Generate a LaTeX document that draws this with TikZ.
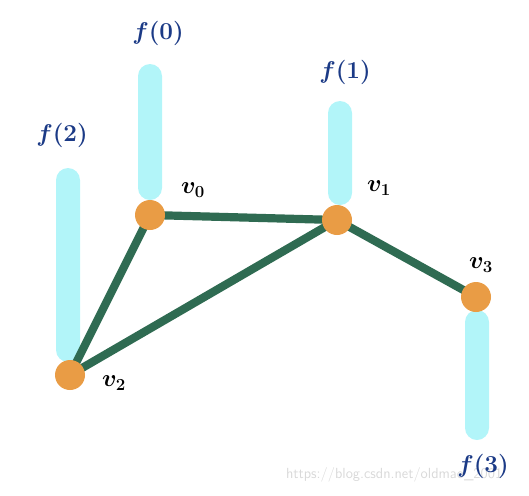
\documentclass[tikz,border=0pt]{standalone}
\usepackage{fontspec}
\usetikzlibrary{positioning,calc}
\definecolor{barcyan}{HTML}{B2F5F9}
\definecolor{vorange}{HTML}{E99C45}
\definecolor{edgegreen}{HTML}{2F6B52}
\definecolor{fblue}{HTML}{1B3A86}
\definecolor{wmgray}{HTML}{D9D9D9}
\newcommand{\lblsize}{\fontsize{21}{24}\selectfont\boldmath}

\begin{document}
\begin{tikzpicture}[
      x=0.03cm, y=-0.03cm, % <-- ONE UNIT IS ONE PIXEL OF THE REFERENCE
      vertex/.style={circle, fill=vorange, minimum size=0.9cm, inner sep=0pt},
      fbar/.style={fill=barcyan, rounded corners=0.36cm},
      link/.style={draw=edgegreen, line width=7pt},
      flabel/.style={text=fblue, font=\lblsize},
      vlabel/.style={text=black, font=\lblsize}
    ]
    \useasboundingbox (0,0) rectangle (529,495);

    % Watermark
    \node[text=wmgray, font=\sffamily\fontsize{12.5}{14}\selectfont, anchor=base west] (mark) at (282,478) {https://blog.csdn.net/oldmao\_2001};

    % Value bars
    \fill[fbar] (138,64) rectangle (162,200);
    \fill[fbar] (56,168) rectangle (80,362);
    \fill[fbar] (328,101) rectangle (352,205);
    \fill[fbar] (465,310) rectangle (489,440);

    % Vertices
    \coordinate (c0) at (150,215);
    \coordinate (c1) at (337,220);
    \coordinate (c2) at (70,375);
    \coordinate (c3) at (476,297);

    % Edges
    \draw[link] (c0) -- (c1);
    \draw[link] (c0) -- (c2);
    \draw[link] (c2) -- (c1);
    \draw[link] (c1) -- (c3);

    \node[vertex] (v0) at (c0) {};
    \node[vertex] (v1) at (c1) {};
    \node[vertex] (v2) at (c2) {};
    \node[vertex] (v3) at (c3) {};

    % Labels
    \node[vlabel] (n0) at (193,190) {$v_0$};
    \node[vlabel] (n1) at (379,188) {$v_1$};
    \node[vlabel] (n2) at (114,383) {$v_2$};
    \node[vlabel] (n3) at (481,265) {$v_3$};

    \node[flabel] (f0) at (158,33) {$f(0)$};
    \node[flabel] (f1) at (345,72) {$f(1)$};
    \node[flabel] (f2) at (62,135) {$f(2)$};
    \node[flabel] (f3) at (483,466) {$f(3)$};

  \end{tikzpicture}
\end{document}
